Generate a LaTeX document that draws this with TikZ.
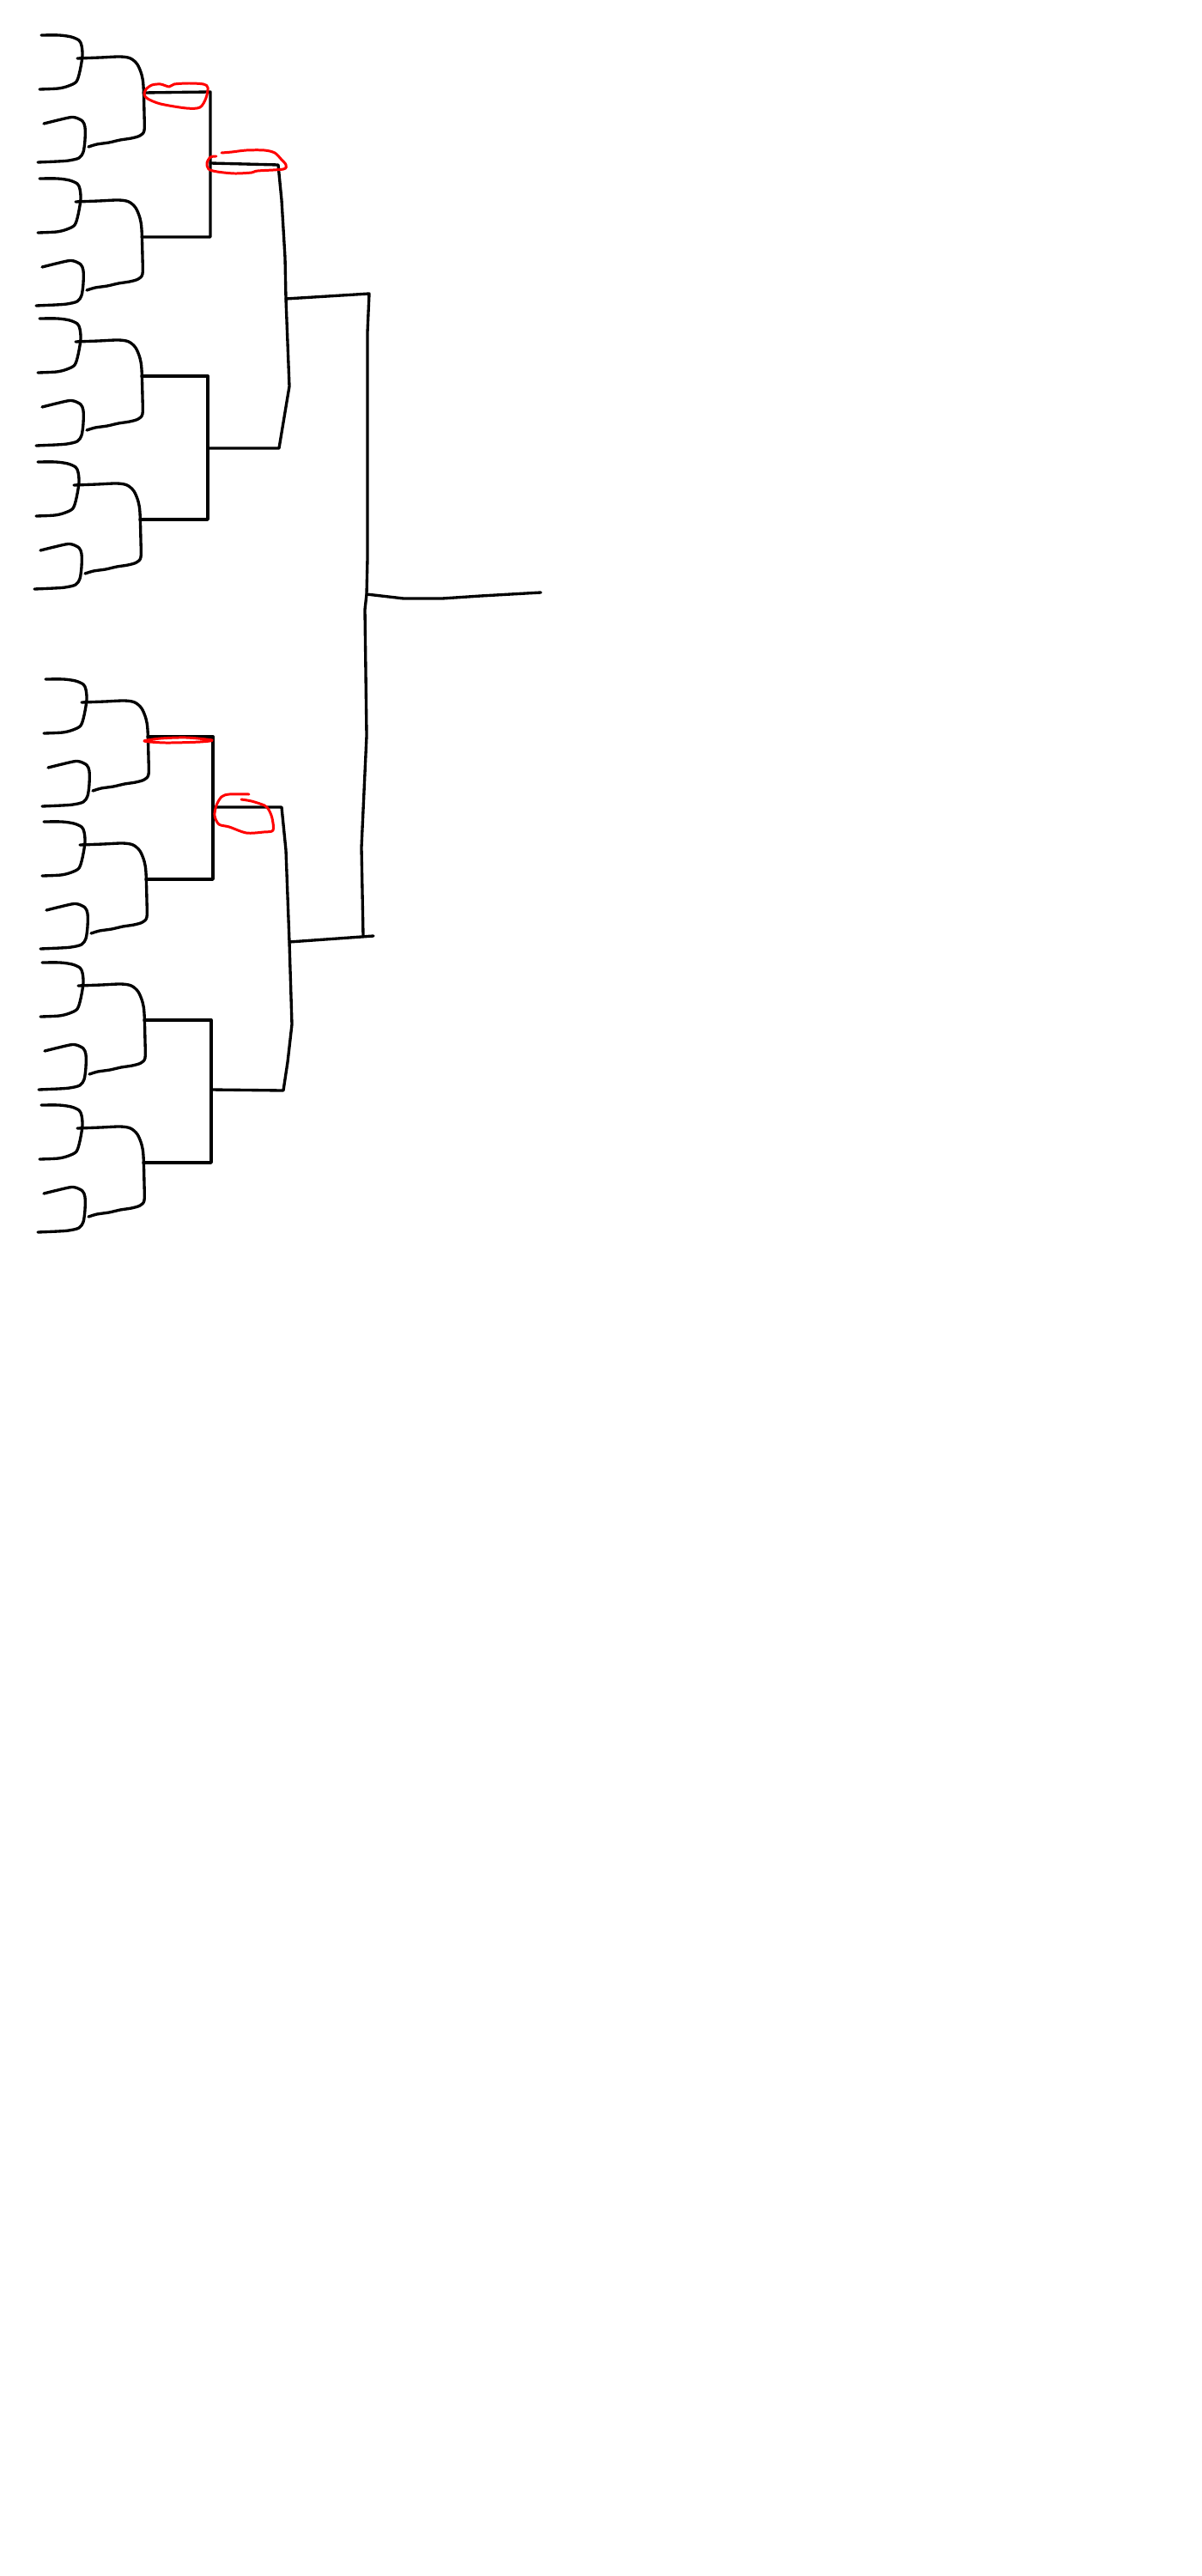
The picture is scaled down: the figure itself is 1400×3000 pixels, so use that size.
\documentclass[tikz,border=0pt]{standalone}
\usepackage{tikz}

\tikzset{
  bline/.style={line width=0.95pt, line cap=round, line join=round},
  redloop/.style={red, line width=0.85pt, line cap=round, line join=round}
}

\begin{document}
\begin{tikzpicture}[x=0.01cm,y=-0.01cm]
\useasboundingbox (0,0) rectangle (1400,3000);
% first two rounds, one block of four entrants at a time
\foreach \dx/\dy in {0/0,-2/167,-2/330,-4/497,5/750,3/916,1/1080,0/1246}
{
\begin{scope}[shift={(\dx,\dy)}]
\draw [bline] plot [smooth, tension=0.5] coordinates {(48,41) (69,41) (83,43) (92,47) (95,53) (96,65) (93,83) (89,95) (80,100) (68,103) (46,104)};
\draw [bline] plot [smooth, tension=0.5] coordinates {(51,144) (80,137) (88,137) (96,141) (99,148) (99,163) (97,177) (92,184) (80,187) (67,188) (44,189)};
\draw [bline] plot [smooth, tension=0.5] coordinates {(90,68) (117,67) (140,66) (152,68) (160,75) (165,87) (167,100) (168,133) (168,152) (163,158) (153,161) (140,163) (127,166) (113,168) (103,171)};
\end{scope}
}
% third round
\draw [bline] (167,108) -- (245,107) -- (245,276) -- (165,276);
\draw [bline] (165,438) -- (242,438) -- (242,605) -- (163,605);
\draw [bline] (172,858) -- (248,858) -- (248,1024) -- (170,1024);
\draw [bline] (168,1188) -- (246,1188) -- (246,1354) -- (167,1354);
% fourth round
\draw [bline] (245,190) -- (324,192) -- (328,233) -- (332,300) -- (333,348)
  -- (337,450) -- (325,522) -- (243,522);
\draw [bline] (248,940) -- (328,940) -- (333,990) -- (337,1097) -- (340,1193)
  -- (335,1237) -- (330,1270) -- (246,1269);
% final
\draw [bline] (333,348) -- (430,342) -- (428,387) -- (428,517) -- (428,650)
  -- (427,692) -- (425,710) -- (427,857) -- (421,987) -- (423,1090);
\draw [bline] (337,1097) -- (435,1090);
\draw [bline] (427,692) -- (470,697) -- (515,697) -- (560,694) -- (630,690);
% red marks
\draw [redloop] plot [smooth cycle, tension=0.5] coordinates {(168,110) (170,104) (177,99) (187,98) (197,101) (203,98) (220,97) (237,98) (242,102) (240,114) (233,125) (217,126) (187,121) (172,115)};
\draw [redloop] plot [smooth, tension=0.5] coordinates {(258,178) (270,177) (287,175) (308,175) (320,178) (328,186) (333,192) (330,197) (300,199) (293,201) (273,202) (253,200) (243,197) (241,190) (245,183) (252,182)};
\draw [redloop] plot [smooth cycle, tension=0.5] coordinates {(168,863) (187,860) (217,859) (247,862) (233,864) (193,865)};
\draw [redloop] plot [smooth, tension=0.5] coordinates {(290,925) (267,925) (258,928) (252,938) (250,950) (255,960) (267,963) (287,970) (307,969) (318,967) (317,953) (313,943) (308,938) (293,933) (281,931)};
\end{tikzpicture}
\end{document}
